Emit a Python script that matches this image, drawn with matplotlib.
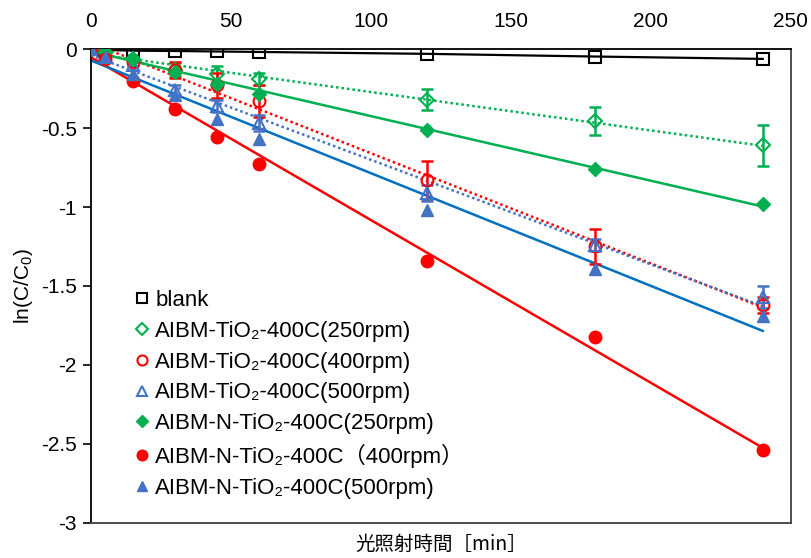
import matplotlib
matplotlib.use("Agg")
import matplotlib.pyplot as plt
import numpy as np

plt.rcParams['font.family'] = ['Liberation Sans', 'Noto Sans CJK JP', 'DejaVu Sans']
plt.rcParams['axes.unicode_minus'] = False
plt.rcParams['mathtext.default'] = 'regular'

# irradiation time [min]
time = [0, 5, 15, 30, 45, 60, 120, 180, 240]

blank = [0, -0.005, -0.01, -0.012, -0.015, -0.018, -0.03, -0.047, -0.062]

# AIBM-TiO2 (open markers, with error bars)
tio2_250 = [0, -0.02, -0.06, -0.13, -0.16, -0.19, -0.32, -0.455, -0.61]
tio2_250_err = [0, 0.01, 0.02, 0.04, 0.05, 0.04, 0.065, 0.09, 0.13]
tio2_400 = [0, -0.03, -0.08, -0.13, -0.23, -0.33, -0.83, -1.25, -1.62]
tio2_400_err = [0, 0.01, 0.03, 0.05, 0.08, 0.10, 0.12, 0.11, 0.05]
tio2_500 = [0, -0.04, -0.10, -0.26, -0.36, -0.47, -0.91, -1.24, -1.57]
tio2_500_err = [0, 0.01, 0.03, 0.03, 0.04, 0.05, 0.05, 0.04, 0.07]

# AIBM-N-TiO2 (filled markers)
ntio2_250 = [0, -0.02, -0.06, -0.145, -0.22, -0.283, -0.513, -0.757, -0.98]
ntio2_400 = [0, -0.06, -0.20, -0.38, -0.557, -0.73, -1.34, -1.82, -2.54]
ntio2_500 = [0, -0.05, -0.156, -0.29, -0.445, -0.567, -1.018, -1.39, -1.69]

labels = ["blank",
          "AIBM-TiO\u2082-400C(250rpm)",
          "AIBM-TiO\u2082-400C(400rpm)",
          "AIBM-TiO\u2082-400C(500rpm)",
          "AIBM-N-TiO\u2082-400C(250rpm)",
          "AIBM-N-TiO\u2082-400C\uff08400rpm\uff09",
          "AIBM-N-TiO\u2082-400C(500rpm)"]

GREEN = '#00B050'
RED = '#FF0000'
BLUE = '#4472C4'
BLUE_LINE = '#0070C0'

fig = plt.figure(figsize=(8.11, 5.58), dpi=100)
ax = fig.add_axes([0.112, 0.063, 0.863, 0.849])

x = np.array(time)


def trend(y, color, ls):
    # linear trendline, drawn over the full time range
    k, b = np.polyfit(x, np.array(y), 1)
    xs = np.array([0, 240])
    ax.plot(xs, k * xs + b, color=color, ls=ls, lw=1.8, zorder=2)


# blank connected with a plain line
ax.plot(time, blank, color='black', lw=1.6, zorder=2)

trend(tio2_250, GREEN, (0, (1, 1.2)))
trend(tio2_400, RED, (0, (1, 1.2)))
trend(tio2_500, BLUE, (0, (1, 1.2)))
trend(ntio2_250, GREEN, '-')
trend(ntio2_400, RED, '-')
trend(ntio2_500, BLUE_LINE, '-')

for y, err, c in [(tio2_250, tio2_250_err, GREEN),
                  (tio2_400, tio2_400_err, RED),
                  (tio2_500, tio2_500_err, BLUE)]:
    ax.errorbar(time, y, yerr=err, fmt='none', ecolor=c, elinewidth=1.8,
                capsize=4, capthick=1.8, zorder=3)

ax.plot(time, blank, ls='none', marker='s', ms=8.5, mfc='none', mec='black', mew=1.5, label=labels[0], zorder=4)
ax.plot(time, tio2_250, ls='none', marker='D', ms=7, mfc='none', mec=GREEN, mew=1.5, label=labels[1], zorder=4)
ax.plot(time, tio2_400, ls='none', marker='o', ms=8.5, mfc='none', mec=RED, mew=1.5, label=labels[2], zorder=4)
ax.plot(time, tio2_500, ls='none', marker='^', ms=8.5, mfc='none', mec=BLUE, mew=1.5, label=labels[3], zorder=4)
ax.plot(time, ntio2_250, ls='none', marker='D', ms=7.5, color=GREEN, label=labels[4], zorder=4)
ax.plot(time, ntio2_400, ls='none', marker='o', ms=9, color=RED, label=labels[5], zorder=4)
ax.plot(time, ntio2_500, ls='none', marker='^', ms=9, color=BLUE, label=labels[6], zorder=4)

ax.set_xlim(0, 250)
ax.set_ylim(-3, 0)
ax.set_xticks([0, 50, 100, 150, 200, 250])
ax.set_yticks([0, -0.5, -1, -1.5, -2, -2.5, -3])
ax.set_yticklabels(['{:g}'.format(v) for v in [0, -0.5, -1, -1.5, -2, -2.5, -3]])
ax.xaxis.tick_top()
ax.xaxis.set_label_position('bottom')
ax.tick_params(axis='x', length=0, labelsize=15, pad=13)
ax.tick_params(axis='y', direction='out', length=6, width=1.2, labelsize=15, pad=4)
for s in ax.spines.values():
    s.set_color('#404040')
    s.set_linewidth(1.3)
ax.spines['left'].set_color('black')
ax.spines['top'].set_color('black')

ax.set_xlabel('光照射時間［min］', fontsize=14, labelpad=8,
              family=['Noto Sans CJK JP', 'DejaVu Sans'])
ax.set_ylabel('ln(C/C$_0$)', fontsize=15, labelpad=4)

ax.legend(loc='upper left', bbox_to_anchor=(0.051, 0.51), frameon=False,
          fontsize=16, numpoints=1, markerscale=0.85, handlelength=0.6,
          handletextpad=0.3, labelspacing=0.44, borderaxespad=0)

fig.savefig('out.png', dpi=100)
